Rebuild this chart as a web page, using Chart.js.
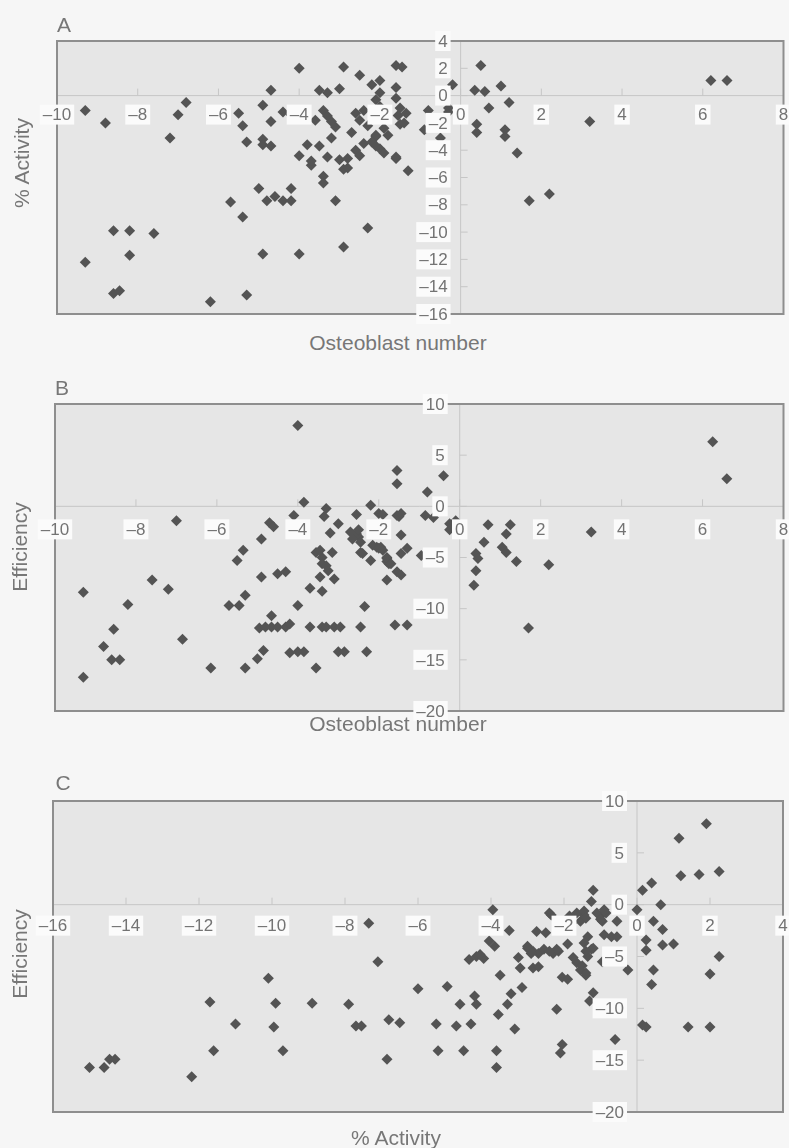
<!DOCTYPE html>
<html>
<head>
<meta charset="utf-8">
<script src="https://cdn.jsdelivr.net/npm/chart.js@4/dist/chart.umd.min.js"></script>
<style>
  html, body { margin: 0; padding: 0; }
  body {
    width: 789px; height: 1148px; position: relative; overflow: hidden;
    background: #f6f6f6; font-family: "Liberation Sans", Arial, sans-serif; color: #777;
  }
  canvas { position: absolute; left: 0; }
  .lbl { position: absolute; white-space: nowrap; transform: translate(-50%, -50%); font-size: 21px; }
  .rot { transform: translate(-50%, -50%) rotate(-90deg); }
</style>
</head>
<body>
<canvas id="chartA" width="789" height="330" style="top:0px"></canvas>
<canvas id="chartB" width="789" height="355" style="top:370px"></canvas>
<canvas id="chartC" width="789" height="370" style="top:760px"></canvas>

<div class="lbl" style="left:64px;top:25px">A</div>
<div class="lbl rot" style="left:22px;top:163px">% Activity</div>
<div class="lbl" style="left:398px;top:343px">Osteoblast number</div>
<div class="lbl" style="left:62px;top:388px">B</div>
<div class="lbl rot" style="left:20px;top:547px">Efficiency</div>
<div class="lbl" style="left:398px;top:724px">Osteoblast number</div>
<div class="lbl" style="left:63px;top:783px">C</div>
<div class="lbl rot" style="left:20px;top:954px">Efficiency</div>
<div class="lbl" style="left:396px;top:1138px">% Activity</div>

<script>
// A: osteoblast number (x) vs % activity (y)
const pointsA = [
  [-9.3,-1.1],[-8.8,-2.0],[-6.8,-0.5],[-7.0,-1.4],[-7.2,-3.1],[-4.0,2.0],[-2.9,2.1],[-2.5,1.5],
  [-4.7,0.4],[-4.9,-0.7],[-5.5,-1.3],[-5.4,-2.2],[-4.7,-1.9],[-4.4,-1.2],[-5.3,-3.4],[-4.9,-3.2],
  [-4.7,-3.7],[-4.9,-3.6],[-4.2,-1.4],[-3.5,0.4],[-3.3,0.2],[-3.0,0.5],[-3.4,-1.1],[-3.3,-1.5],
  [-3.2,-1.9],[-3.1,-2.3],[-3.6,-1.8],[-2.7,-2.7],[-3.2,-3.1],[-3.8,-3.6],[-3.5,-3.7],[-4.0,-4.4],
  [-3.3,-4.5],[-3.7,-5.1],[-3.0,-4.7],[-2.9,-5.4],[-3.4,-5.9],[-3.4,-6.4],[-2.6,-4.0],[-2.5,-4.4],
  [-2.6,-1.3],[-2.4,-1.1],[-2.5,-1.8],[-2.3,-2.2],[-2.1,-3.0],[-2.4,-3.5],[-2.0,-3.9],[-1.9,-4.2],
  [-1.6,-4.6],[-2.2,0.8],[-2.0,1.1],[-2.0,0.2],[-2.1,-0.3],[-2.0,-0.8],[-1.6,2.2],[-1.45,2.1],
  [-1.6,0.6],[-1.6,-0.2],[-1.5,-0.9],[-1.35,-1.3],[-1.55,-1.45],[-1.5,-2.1],[-1.4,-2.0],[-1.9,-2.4],
  [-1.8,-2.9],[-2.1,-2.9],[-2.2,-3.4],[-2.1,-3.7],[-1.6,-4.5],[-1.3,-5.5],[-2.8,-4.6],[-2.8,-5.3],
  [-3.7,-4.8],[-0.8,-1.1],[-0.9,-2.5],[-0.5,-3.1],[-0.3,-0.9],[-0.3,-1.2],[-0.2,0.8],[0.5,2.2],
  [0.35,0.4],[0.6,0.3],[1.0,0.7],[1.2,-0.5],[0.7,-0.9],[0.4,-2.1],[0.4,-2.7],[1.1,-2.5],
  [1.1,-3.0],[1.4,-4.2],[1.7,-7.7],[2.2,-7.2],[3.2,-1.9],[6.2,1.1],[6.6,1.1],[-5.0,-6.8],
  [-4.8,-7.7],[-4.6,-7.4],[-4.4,-7.7],[-4.2,-6.8],[-4.2,-7.7],[-5.7,-7.8],[-5.4,-8.9],[-3.1,-7.7],
  [-2.3,-9.7],[-2.9,-11.1],[-4.0,-11.6],[-4.9,-11.6],[-8.6,-9.9],[-8.2,-9.9],[-7.6,-10.1],[-8.2,-11.7],
  [-9.3,-12.2],[-8.6,-14.5],[-8.45,-14.3],[-6.2,-15.1],[-5.3,-14.6]
];

// B: osteoblast number (x) vs efficiency (y)
const pointsB = [
  [-4.0,7.9],[-7.0,-1.4],[-3.85,0.4],[-4.1,-0.9],[-4.7,-1.6],[-4.6,-2.0],[-4.9,-3.2],[-5.35,-4.3],
  [-5.5,-5.3],[-4.9,-6.9],[-4.5,-6.6],[-4.3,-6.4],[-3.3,-0.2],[-3.35,-1.0],[-3.0,-1.7],[-3.2,-2.6],
  [-3.55,-4.5],[-3.4,-5.0],[-3.15,-4.5],[-3.4,-5.6],[-3.25,-6.3],[-3.45,-6.9],[-3.1,-7.1],[-3.7,-8.0],
  [-3.4,-8.3],[-4.0,-9.7],[-2.55,-0.8],[-2.2,0.1],[-2.0,-0.7],[-2.7,-2.5],[-2.5,-3.0],[-2.4,-4.6],
  [-2.2,-5.3],[-2.05,-4.0],[-1.8,-5.4],[-1.8,-7.2],[-1.55,3.5],[-1.55,2.2],[-1.55,-0.9],[-1.55,-6.4],
  [-2.35,-9.8],[-2.45,-11.8],[-1.6,-11.6],[-1.3,-11.6],[-2.3,-14.2],[-3.0,-14.2],[-2.85,-14.2],[-4.2,-14.3],
  [-4.0,-14.2],[-3.85,-14.2],[-3.55,-15.8],[-3.7,-11.8],[-3.4,-11.8],[-3.3,-11.8],[-3.1,-11.8],[-2.95,-11.8],
  [-4.95,-11.9],[-4.8,-11.8],[-4.65,-11.8],[-4.5,-11.8],[-4.3,-11.8],[-4.2,-11.5],[-4.65,-10.7],[-4.85,-14.1],
  [-5.0,-14.9],[-5.3,-15.8],[-6.15,-15.8],[-5.7,-9.7],[-5.45,-9.7],[-5.3,-8.7],[-6.85,-13.0],[-7.2,-8.1],
  [-7.6,-7.2],[-8.2,-9.6],[-8.55,-12.0],[-8.8,-13.7],[-8.6,-15.0],[-8.4,-15.0],[-9.3,-8.4],[-9.3,-16.7],
  [-0.4,3.0],[-0.8,1.4],[-1.9,-0.8],[-1.5,-1.0],[-1.45,-0.7],[-0.85,-0.9],[-0.65,-1.1],[-0.25,-1.7],
  [-0.1,-1.4],[-0.25,-2.3],[-1.45,-2.8],[-1.95,-4.0],[-1.8,-5.1],[-1.75,-5.6],[-1.45,-4.6],[-1.3,-4.1],
  [-1.45,-6.7],[-0.95,-4.8],[0.7,-1.8],[1.25,-1.8],[1.15,-2.7],[0.6,-3.5],[1.05,-4.0],[1.15,-4.5],
  [0.4,-4.6],[0.45,-5.1],[1.4,-5.4],[0.4,-6.3],[0.35,-7.7],[2.2,-5.7],[1.7,-11.9],[3.25,-2.5],
  [6.25,6.3],[6.6,2.7],[-2.55,-2.7],[-2.5,-2.3],[-2.65,-3.2],[-2.45,-3.5],[-2.15,-3.8],[-2.0,-4.1],
  [-1.9,-4.3],[-2.45,-4.5],[-1.8,-5.0],[-1.7,-5.6],[-3.45,-4.3],[-3.3,-5.8]
];

// C: % activity (x) vs efficiency (y)
const pointsC = [
  [-7.35,-1.8],[-7.1,-5.5],[-10.1,-7.1],[-11.7,-9.4],[-9.9,-9.5],[-8.9,-9.5],[-7.9,-9.6],[-11.0,-11.5],
  [-9.95,-11.8],[-7.7,-11.7],[-7.55,-11.7],[-6.8,-11.1],[-6.5,-11.4],[-11.6,-14.1],[-9.7,-14.1],[-6.85,-14.9],
  [-15.0,-15.7],[-14.6,-15.7],[-14.45,-14.9],[-14.3,-14.9],[-12.2,-16.6],[-6.0,-8.1],[-5.2,-7.9],[-5.5,-11.5],
  [-4.95,-11.7],[-4.55,-11.5],[-4.85,-9.6],[-4.45,-8.8],[-4.4,-9.6],[-5.45,-14.1],[-4.75,-14.1],[-3.85,-14.1],
  [-3.85,-15.7],[-3.8,-10.6],[-3.55,-9.6],[-3.45,-8.6],[-3.15,-8.0],[-3.35,-12.0],[-3.75,-6.8],[-4.6,-5.3],
  [-4.4,-5.0],[-4.2,-5.2],[-4.05,-3.5],[-3.9,-4.0],[-3.95,-0.5],[-3.5,-2.5],[-3.25,-5.1],[-3.2,-6.1],
  [-3.0,-4.2],[-2.85,-4.5],[-2.7,-4.7],[-2.55,-4.3],[-2.75,-2.6],[-2.5,-2.7],[-2.85,-6.1],[-2.7,-6.0],
  [-2.35,-1.0],[-2.15,-4.5],[-2.3,-4.7],[-1.9,-3.8],[-2.05,-7.0],[-1.9,-7.2],[-2.2,-10.1],[-2.05,-13.5],
  [-2.1,-14.3],[-1.75,-5.1],[-1.65,-5.6],[-1.55,-6.3],[-1.4,-6.6],[-1.35,-5.0],[-1.25,-4.3],[-1.35,-3.1],
  [-1.55,-1.6],[-1.45,-1.0],[-1.2,1.4],[-1.25,0.3],[-1.0,-1.1],[-0.95,-1.6],[-1.1,-0.8],[-0.85,-0.8],
  [-0.9,-2.9],[-0.7,-3.1],[-0.55,-3.1],[-0.55,-1.6],[-0.95,-5.5],[-1.2,-8.5],[-1.3,-9.3],[-0.6,-13.0],
  [-0.25,-6.3],[0.0,-0.5],[0.15,1.4],[0.4,2.1],[0.65,0.0],[0.45,-1.6],[0.7,-2.4],[0.25,-3.4],
  [0.25,-4.4],[0.7,-3.9],[1.0,-3.8],[0.45,-6.3],[0.4,-7.7],[0.15,-11.6],[0.25,-11.8],[1.4,-11.8],
  [2.0,-11.8],[2.0,-6.7],[2.25,-5.0],[1.15,6.4],[1.9,7.8],[1.2,2.8],[1.7,2.9],[2.25,3.2],
  [-2.4,-0.8],[-2.05,-2.4],[-1.85,-1.1],[-1.65,-0.8],[-1.45,-0.6],[-1.8,-1.8],[-1.4,-1.3],[-0.9,-0.5],
  [-1.0,-1.4],[-1.45,-3.7],[-1.2,-4.2],[-1.4,-4.5],[-1.5,-5.9],[-1.4,-6.8],[-2.2,-4.3],[-2.4,-4.5],
  [-3.0,-4.0],[-2.9,-4.7],[-4.3,-4.8],[-0.65,-5.3]
];

// tick labels
const ticksOsteoblast = [-10, -8, -6, -4, -2, 0, 2, 4, 6, 8];
const ticksActivityA = [-16, -14, -12, -10, -8, -6, -4, -2, 0, 2, 4];
const ticksEfficiency = [-20, -15, -10, -5, 0, 5, 10];
const ticksActivityC = [-16, -14, -12, -10, -8, -6, -4, -2, 0, 2, 4];

const fmt = v => String(v).replace('-', '\u2013');

// plot box, axes through zero and boxed tick labels
const crossAxes = {
  id: 'crossAxes',
  beforeDatasetsDraw(chart, args, opts) {
    const { ctx, chartArea: a, scales: { x, y } } = chart;
    const x0 = x.getPixelForValue(0);
    const y0 = y.getPixelForValue(0);
    ctx.save();
    ctx.fillStyle = '#e6e6e6';
    ctx.fillRect(a.left, a.top, a.right - a.left, a.bottom - a.top);

    ctx.strokeStyle = '#c6c6c6';
    ctx.lineWidth = 1;
    ctx.beginPath();
    ctx.moveTo(a.left, y0); ctx.lineTo(a.right, y0);
    ctx.moveTo(x0, a.top); ctx.lineTo(x0, a.bottom);
    opts.xTicks.forEach(v => {
      const px = x.getPixelForValue(v);
      ctx.moveTo(px, y0 - 7); ctx.lineTo(px, y0);
    });
    opts.yTicks.forEach(v => {
      const py = y.getPixelForValue(v);
      ctx.moveTo(x0, py); ctx.lineTo(x0 + 7, py);
    });
    ctx.stroke();

    ctx.strokeStyle = '#8e8e8e';
    ctx.lineWidth = 2;
    ctx.strokeRect(a.left, a.top, a.right - a.left, a.bottom - a.top);
    ctx.restore();
  },
  afterDatasetsDraw(chart, args, opts) {
    const { ctx, scales: { x, y } } = chart;
    const x0 = x.getPixelForValue(0);
    const y0 = y.getPixelForValue(0);
    ctx.save();
    ctx.font = '17px "Liberation Sans", Arial, sans-serif';
    ctx.textBaseline = 'middle';

    const box = (text, cx, cy, align) => {
      const w = ctx.measureText(text).width;
      const left = align === 'right' ? cx - w : cx - w / 2;
      ctx.fillStyle = '#fbfbfb';
      ctx.fillRect(left - 3, cy - 10, w + 6, 20);
      ctx.fillStyle = '#737373';
      ctx.textAlign = 'left';
      ctx.fillText(text, left, cy + 1);
    };

    opts.xTicks.forEach(v => box(fmt(v), x.getPixelForValue(v), y0 + opts.xOffset, 'center'));
    opts.yTicks.forEach(v => box(fmt(v), x0 - opts.yOffset, y.getPixelForValue(v), 'right'));
    ctx.restore();
  }
};

const makeChart = (id, points, xMin, xMax, yMin, yMax, xTicks, yTicks, padding, xOffset, yOffset) => {
  return new Chart(document.getElementById(id), {
    type: 'scatter',
    data: {
      datasets: [{
        data: points.map(p => ({ x: p[0], y: p[1] })),
        pointStyle: 'rectRot',
        pointRadius: 5.5,
        backgroundColor: '#545454',
        borderColor: '#545454',
        borderWidth: 0
      }]
    },
    options: {
      responsive: false,
      animation: false,
      layout: { padding },
      plugins: {
        legend: { display: false },
        tooltip: { enabled: false },
        crossAxes: { xTicks, yTicks, xOffset, yOffset }
      },
      scales: {
        x: { type: 'linear', display: false, min: xMin, max: xMax },
        y: { type: 'linear', display: false, min: yMin, max: yMax }
      }
    },
    plugins: [crossAxes]
  });
};

makeChart('chartA', pointsA, -10, 8, -16, 4, ticksOsteoblast, ticksActivityA,
  { left: 57, right: 2, top: 41, bottom: 16 }, 19, 13);
makeChart('chartB', pointsB, -10, 8, -20, 10, ticksOsteoblast, ticksEfficiency,
  { left: 55, right: 5, top: 34, bottom: 14 }, 23, 15);
makeChart('chartC', pointsC, -16, 4, -20, 10, ticksActivityC, ticksEfficiency,
  { left: 53, right: 6, top: 41, bottom: 18 }, 21, 13);
</script>
</body>
</html>
